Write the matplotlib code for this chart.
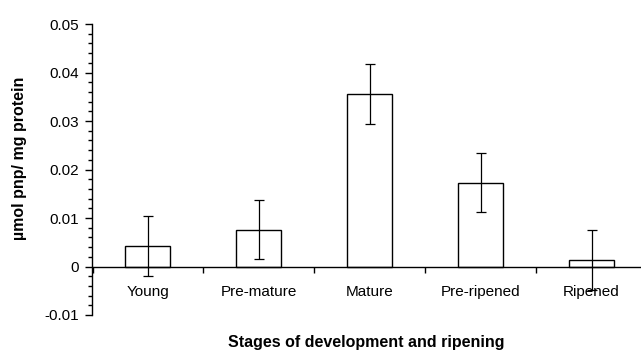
import matplotlib
matplotlib.use("Agg")
import matplotlib.pyplot as plt
from matplotlib.ticker import MultipleLocator, FixedLocator, NullFormatter
import numpy as np

stages = ["Young", "Pre-mature", "Mature", "Pre-ripened", "Ripened"]
activity = [0.0042, 0.0076, 0.0355, 0.0173, 0.0014]
errors = [0.0062, 0.0061, 0.0062, 0.0061, 0.0062]

plt.rcParams['font.family'] = ['Liberation Sans', 'DejaVu Sans']

fig = plt.figure(figsize=(6.41, 3.52), dpi=100)
ax = fig.add_axes([92.5 / 641, 37 / 352, 1 - 92.5 / 641, (315 - 24) / 352])

x = np.arange(len(stages))
ax.bar(x, activity, width=0.405, color='white', edgecolor='black', linewidth=1.0, zorder=2)
ax.errorbar(x, activity, yerr=errors, fmt='none', ecolor='black', elinewidth=0.9,
            capsize=3.5, capthick=0.9, zorder=3)

ax.set_xlim(-0.5, 4.446)
ax.set_ylim(-0.01, 0.05)

ax.spines['top'].set_visible(False)
ax.spines['right'].set_visible(False)
ax.spines['bottom'].set_position(('data', 0))
ax.spines['bottom'].set_zorder(4)
for s in ['left', 'bottom']:
    ax.spines[s].set_linewidth(1.0)

ax.yaxis.set_minor_locator(MultipleLocator(0.002))
ax.set_yticks([-0.01, 0, 0.01, 0.02, 0.03, 0.04, 0.05])
ax.set_yticklabels(['-0.01', '0', '0.01', '0.02', '0.03', '0.04', '0.05'])
ax.tick_params(axis='y', which='major', direction='out', length=5, width=1, labelsize=11, pad=5)
ax.tick_params(axis='y', which='minor', direction='out', length=3, width=1)

# category boundaries as ticks, names centered between them
ax.xaxis.set_major_locator(FixedLocator([-0.5, 0.5, 1.5, 2.5, 3.5]))
ax.xaxis.set_major_formatter(NullFormatter())
ax.xaxis.set_minor_locator(FixedLocator(x))
ax.set_xticklabels(stages, minor=True)
ax.tick_params(axis='x', which='major', direction='out', length=4, width=1)
ax.tick_params(axis='x', which='minor', length=0, labelsize=11, pad=13)

ax.set_ylabel('µmol pnp/ mg protein', fontsize=11.5, fontweight='bold')
ax.yaxis.set_label_coords(-0.12, 0.54)
fig.text((92.5 + 641) / 2 / 641, 10 / 352, 'Stages of development and ripening',
         ha='center', va='center', fontsize=11.5, fontweight='bold')

fig.savefig('out.png', dpi=100)
